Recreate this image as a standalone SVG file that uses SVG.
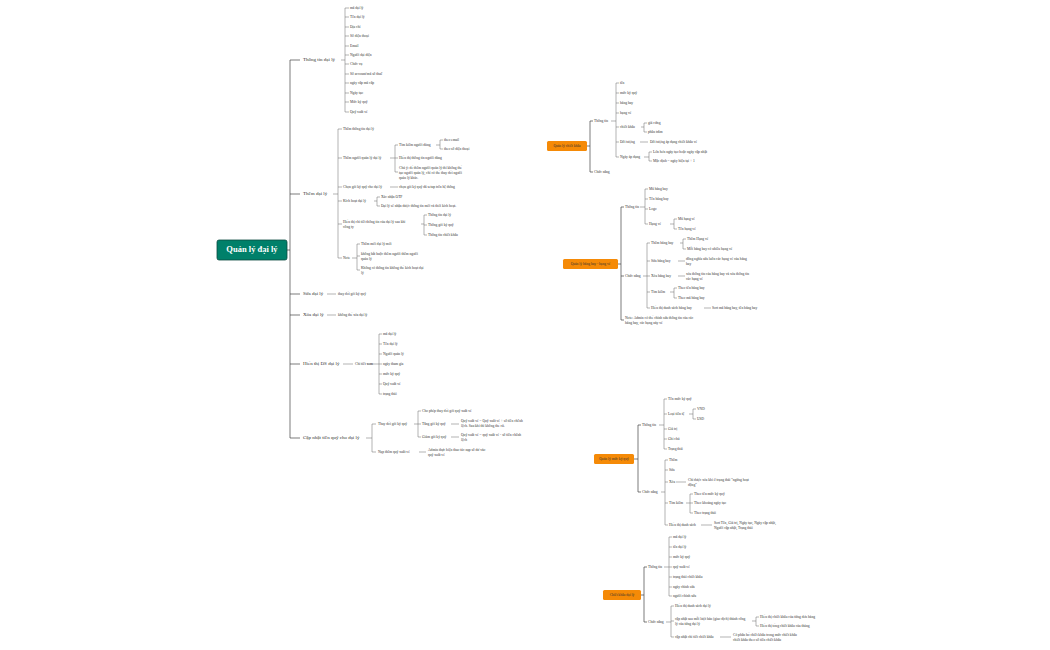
<svg xmlns="http://www.w3.org/2000/svg" width="1050" height="650" viewBox="0 0 1050 650">
<style>
text{font-family:"Liberation Serif",serif;fill:#333;dominant-baseline:middle}
.l{font-size:3.6px}
.b{font-size:5px}
.r{font-size:8.5px;fill:#fff;font-weight:bold;text-anchor:middle}
.o{font-size:3.6px;fill:#333;text-anchor:middle}
.c{fill:none;stroke:#444;stroke-width:0.7}
.c2{fill:none;stroke:#666;stroke-width:0.5}
</style>
<rect width="1050" height="650" fill="#fff"/>
<g id="connectors">
<path class="c" d="M287 250H290M290 60V438M290 60H300M290 194H300M290 294H300M290 315H300M290 364H300M290 438H300"/>
<path class="c2" d="M341 60H345M345 8V112M345 8H349M345 17H349M345 27H349M345 36H349M345 46H349M345 55H349M345 64H349M345 74H349M345 83H349M345 93H349M345 102H349M345 112H349"/>
<path class="c2" d="M333 194H338M338 129V258M338 129H342M338 158H342M338 187H342M338 201H342M338 224H342M338 258H342"/>
<path class="c2" d="M390 158H395M395 145V172M395 145H398M395 158H398M395 172H398M436 145H440M440 140V149M440 140H443M440 149H443"/>
<path class="c2" d="M390 187H398M374 201H377M377 197V206M377 197H380M377 206H380M421 224H424M424 215V235M424 215H427M424 225H427M424 235H427M352 258H357M357 244V270M357 244H360M357 256H360M357 270H360"/>
<path class="c2" d="M327 294H336M327 315H336M343 364H353M367 364H379M379 334V394M379 334H382M379 344H382M379 354H382M379 364H382M379 374H382M379 384H382M379 394H382"/>
<path class="c2" d="M366 438H372M372 424V452M372 424H376M372 452H376M414 424H418M418 411V437M418 411H421M418 424H421M418 437H421M451 424H459M451 437H459M419 452H426"/>
<path class="c" d="M587 146H590M590 121V172M590 121H593M590 172H593"/>
<path class="c2" d="M611 121H616M616 83V157M616 83H619M616 93H619M616 103H619M616 113H619M616 127H619M616 142H619M616 157H619M641 127H644M644 123V132M644 123H647M644 132H647M640 142H648M644 157H649M649 152V161M649 152H652M649 161H652"/>
<path class="c" d="M618 264H621M621 207V320M621 207H624M621 276H624M621 320H624"/>
<path class="c2" d="M640 207H645M645 189V224M645 189H648M645 199H648M645 209H648M645 224H648M670 224H674M674 219V229M674 219H677M674 229H677"/>
<path class="c2" d="M643 276H647M647 243V308M647 243H650M647 261H650M647 276H650M647 292H650M647 308H650M680 243H683M683 239V249M683 239H686M683 249H686M678 261H685M678 276H685M670 292H674M674 288V298M674 288H677M674 298H677M704 308H711"/>
<path class="c" d="M634 459H638M638 425V492M638 425H641M638 492H641"/>
<path class="c2" d="M659 425H664M664 399V449M664 399H667M664 414H667M664 429H667M664 439H667M664 449H667M689 414H693M693 409V419M693 409H696M693 419H696"/>
<path class="c2" d="M661 492H665M665 460V525M665 460H668M665 470H668M665 482H668M665 503H668M665 525H668M676 482H686M686 503H690M690 494V513M690 494H693M690 503H693M690 513H693M701 525H712"/>
<path class="c" d="M641 595H644M644 567V622M644 567H647M644 622H647"/>
<path class="c2" d="M664 567H669M669 537V596M669 537H672M669 547H672M669 557H672M669 567H672M669 577H672M669 587H672M669 596H672"/>
<path class="c2" d="M666 622H671M671 606V637M671 606H674M671 621H674M671 637H674M752 621H756M756 617V626M756 617H759M756 626H759M720 637H731"/>
</g>
<g id="root"><rect x="217" y="240" width="70" height="20" rx="2" fill="#00806a" stroke="#0a4a40" stroke-width="0.8"/><text class="r" x="252" y="250.5">Quản lý đại lý</text></g>
<g id="n-thongtin"><text class="b" x="303" y="60">Thông tin đại lý</text>
<text class="l" x="350" y="8">mã đại lý</text><text class="l" x="350" y="17">Tên đại lý</text><text class="l" x="350" y="27">Địa chỉ</text><text class="l" x="350" y="36">Số điện thoại</text><text class="l" x="350" y="46">Email</text><text class="l" x="350" y="55">Người đại diện</text><text class="l" x="350" y="64">Chức vụ</text><text class="l" x="350" y="74">Số account/mã số thuế</text><text class="l" x="350" y="83">ngày cấp mã cấp</text><text class="l" x="350" y="93">Ngày tạo</text><text class="l" x="350" y="102">Mức ký quỹ</text><text class="l" x="350" y="112">Quỹ xuất vé</text></g>
<g id="n-them"><text class="b" x="303" y="194">Thêm đại lý</text>
<text class="l" x="343" y="129">Thêm thông tin đại lý</text>
<text class="l" x="343" y="158">Thêm người quản lý đại lý</text>
<text class="l" x="399" y="145">Tìm kiếm người dùng</text><text class="l" x="444" y="140">theo email</text><text class="l" x="444" y="149">theo số điện thoại</text>
<text class="l" x="399" y="158">Hiển thị thông tin người dùng</text>
<text class="l" x="399" y="168">Chú ý: để thêm người quản lý thì không thể</text><text class="l" x="399" y="173">tạo người quản lý, chỉ có thể thay đổi người</text><text class="l" x="399" y="178">quản lý khác.</text>
<text class="l" x="343" y="187">Chọn gói ký quỹ cho đại lý</text><text class="l" x="399" y="187">chọn gói ký quỹ đã setup trên hệ thống</text>
<text class="l" x="343" y="201">Kích hoạt đại lý</text><text class="l" x="381" y="197">Xác nhận OTP</text><text class="l" x="381" y="206">Đại lý sẽ nhận được thông tin mời và thời kích hoạt.</text>
<text class="l" x="343" y="222">Hiển thị chi tiết thông tin của đại lý sau khi</text><text class="l" x="343" y="227">công ty</text>
<text class="l" x="428" y="215">Thông tin đại lý</text><text class="l" x="428" y="225">Thông gói ký quỹ</text><text class="l" x="428" y="235">Thông tin chiết khấu</text>
<text class="l" x="343" y="258">Note</text><text class="l" x="361" y="244">Thêm mới đại lý mới</text><text class="l" x="361" y="254">không bắt buộc thêm người thêm người</text><text class="l" x="361" y="259">quản lý</text><text class="l" x="361" y="268">Không có thông tin không thể kích hoạt đại</text><text class="l" x="361" y="273">lý</text></g>
<g id="n-sua"><text class="b" x="303" y="294">Sửa đại lý</text><text class="l" x="338" y="294">thay đổi gói ký quỹ</text></g>
<g id="n-xoa"><text class="b" x="303" y="315">Xóa đại lý</text><text class="l" x="338" y="315">không thể xóa đại lý</text></g>
<g id="n-hienthi"><text class="b" x="303" y="364">Hiển thị DS đại lý</text><text class="l" x="355" y="364">Chi tiết xem</text>
<text class="l" x="383" y="334">mã đại lý</text><text class="l" x="383" y="344">Tên đại lý</text><text class="l" x="383" y="354">Người quản lý</text><text class="l" x="383" y="364">ngày tham gia</text><text class="l" x="383" y="374">mức ký quỹ</text><text class="l" x="383" y="384">Quỹ xuất vé</text><text class="l" x="383" y="394">trạng thái</text></g>
<g id="n-capnhat"><text class="b" x="303" y="438">Cập nhật tiền quỹ cho đại lý</text>
<text class="l" x="378" y="424">Thay đổi gói ký quỹ</text><text class="l" x="378" y="452">Nạp thêm quỹ xuất vé</text>
<text class="l" x="422" y="411">Cho phép thay đổi gói quỹ xuất vé</text><text class="l" x="422" y="424">Tăng gói ký quỹ</text><text class="l" x="422" y="437">Giảm gói ký quỹ</text>
<text class="l" x="461" y="421">Quỹ xuất vé = Quỹ xuất vé + số tiền chênh</text><text class="l" x="461" y="426">lệch. Sau khi thì không thể cũ.</text>
<text class="l" x="461" y="435">Quỹ xuất vé = quỹ xuất vé - số tiền chênh</text><text class="l" x="461" y="440">lệch</text>
<text class="l" x="428" y="450">Admin thực hiện thao tác nạp số dư vào</text><text class="l" x="428" y="455">quỹ xuất vé</text></g>
<g id="n-chietkhau"><rect x="547" y="141" width="40" height="10" rx="1.5" fill="#f58a07"/><text class="o" x="567" y="146.3">Quản lý chiết khấu</text>
<text class="l" x="594" y="121">Thông tin</text><text class="l" x="594" y="172">Chức năng</text>
<text class="l" x="620" y="83">tên</text><text class="l" x="620" y="93">mức ký quỹ</text><text class="l" x="620" y="103">hãng bay</text><text class="l" x="620" y="113">hạng vé</text><text class="l" x="620" y="127">chiết khấu</text><text class="l" x="648" y="123">giá cứng</text><text class="l" x="648" y="132">phần trăm</text>
<text class="l" x="620" y="142">Đối tượng</text><text class="l" x="650" y="142">Đối tượng áp dụng chiết khấu vé</text>
<text class="l" x="620" y="157">Ngày áp dụng</text><text class="l" x="653" y="152">Lớn hơn ngày tạo hoặc ngày cập nhật</text><text class="l" x="653" y="161">Mặc định = ngày hiện tại + 1</text></g>
<g id="n-hangbay"><rect x="563" y="259" width="55" height="10" rx="1.5" fill="#f58a07"/><text class="o" x="590.5" y="264.3">Quản lý hãng bay - hạng vé</text>
<text class="l" x="625" y="207">Thông tin</text><text class="l" x="625" y="276">Chức năng</text>
<text class="l" x="649" y="189">Mã hãng bay</text><text class="l" x="649" y="199">Tên hãng bay</text><text class="l" x="649" y="209">Logo</text><text class="l" x="649" y="224">Hạng vé</text><text class="l" x="678" y="219">Mã hạng vé</text><text class="l" x="678" y="229">Tên hạng vé</text>
<text class="l" x="651" y="243">Thêm hãng bay</text><text class="l" x="687" y="239">Thêm Hạng vé</text><text class="l" x="687" y="249">Mỗi hãng bay có nhiều hạng vé</text>
<text class="l" x="651" y="261">Sửa hãng bay</text><text class="l" x="686" y="259">đồng nghĩa sửa luôn các hạng vé của hãng</text><text class="l" x="686" y="264">bay</text>
<text class="l" x="651" y="276">Xóa hãng bay</text><text class="l" x="686" y="274">xóa thông tin của hãng bay và xóa thông tin</text><text class="l" x="686" y="279">các hạng vé</text>
<text class="l" x="651" y="292">Tìm kiếm</text><text class="l" x="678" y="288">Theo tên hãng bay</text><text class="l" x="678" y="298">Theo mã hãng bay</text>
<text class="l" x="651" y="308">Hiển thị danh sách hãng bay</text><text class="l" x="712" y="308">Sort mã hãng bay, tên hãng bay</text>
<text class="l" x="625" y="318">Note: Admin có thể chỉnh sửa thông tin của các</text><text class="l" x="625" y="323">hãng bay, các hạng này vé</text></g>
<g id="n-mucky"><rect x="594" y="454" width="40" height="10" rx="1.5" fill="#f58a07"/><text class="o" x="614" y="459.3">Quản lý mức ký quỹ</text>
<text class="l" x="642" y="425">Thông tin</text><text class="l" x="642" y="492">Chức năng</text>
<text class="l" x="668" y="399">Tên mức ký quỹ</text><text class="l" x="668" y="414">Loại tiền tệ</text><text class="l" x="697" y="409">VND</text><text class="l" x="697" y="419">USD</text><text class="l" x="668" y="429">Giá trị</text><text class="l" x="668" y="439">Ghi chú</text><text class="l" x="668" y="449">Trạng thái</text>
<text class="l" x="669" y="460">Thêm</text><text class="l" x="669" y="470">Sửa</text><text class="l" x="669" y="482">Xóa</text><text class="l" x="688" y="480">Chỉ được xóa khi ở trạng thái "ngừng hoạt</text><text class="l" x="688" y="485">động"</text>
<text class="l" x="669" y="503">Tìm kiếm</text><text class="l" x="694" y="494">Theo tên mức ký quỹ</text><text class="l" x="694" y="503">Theo khoảng ngày tạo</text><text class="l" x="694" y="513">Theo trạng thái</text>
<text class="l" x="669" y="525">Hiển thị danh sách</text><text class="l" x="714" y="523">Sort Tên, Giá trị, Ngày tạo, Ngày cập nhật,</text><text class="l" x="714" y="528">Người cập nhật, Trạng thái</text></g>
<g id="n-ckdaily"><rect x="603" y="590" width="38" height="10" rx="1.5" fill="#f58a07"/><text class="o" x="622" y="595.3">Chiết khấu đại lý</text>
<text class="l" x="648" y="567">Thông tin</text><text class="l" x="648" y="622">Chức năng</text>
<text class="l" x="673" y="537">mã đại lý</text><text class="l" x="673" y="547">tên đại lý</text><text class="l" x="673" y="557">mức ký quỹ</text><text class="l" x="673" y="567">quỹ xuất vé</text><text class="l" x="673" y="577">trạng thái chiết khấu</text><text class="l" x="673" y="587">ngày chỉnh sửa</text><text class="l" x="673" y="596">người chỉnh sửa</text>
<text class="l" x="675" y="606">Hiển thị danh sách đại lý</text><text class="l" x="675" y="619">cập nhật sau mỗi lượt bán (giao dịch) thành công</text><text class="l" x="675" y="624">lý của từng đại lý</text>
<text class="l" x="760" y="617">Hiển thị chiết khấu của từng đơn hàng</text><text class="l" x="760" y="626">Hiển thị tổng chiết khấu của tháng</text>
<text class="l" x="675" y="637">cập nhật chi tiết chiết khấu</text><text class="l" x="733" y="635">Có phân bổ chiết khấu trong mức chiết khấu</text><text class="l" x="733" y="640">chiết khấu theo số tiền chiết khấu</text></g>
</svg>
